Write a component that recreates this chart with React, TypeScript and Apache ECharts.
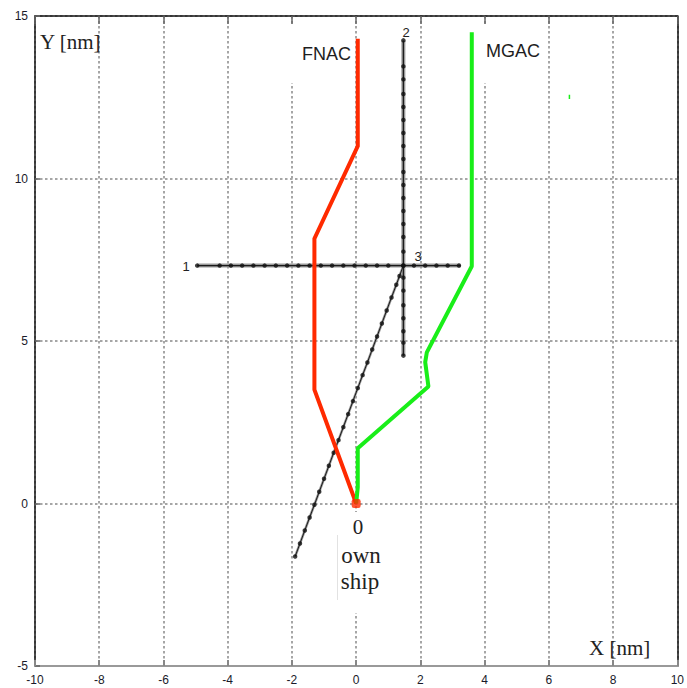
import React, { useEffect, useRef } from "react";
import * as echarts from "echarts";

// X ticks / Y ticks
const X_MIN = -10, X_MAX = 10, X_STEP = 2;
const Y_MIN = -5, Y_MAX = 15, Y_STEP = 5;

// FNAC track (red)
const FNAC_X = [0.05, 0.05, -1.3, -1.3, 0];
const FNAC_Y = [14.3, 11.0, 8.15, 3.5, 0];

// MGAC track (green)
const MGAC_X = [3.6, 3.6, 2.2, 2.15, 2.25, 0.05, 0.05, 0];
const MGAC_Y = [14.5, 7.3, 4.65, 4.35, 3.6, 1.7, 0.5, 0];

// Stray green tick
const STRAY_X = [6.64, 6.64];
const STRAY_Y = [12.45, 12.58];

// Target line 1 (horizontal)
const L1_X = [-4.95, 3.25];
const L1_Y = [7.32, 7.32];
const L1_DOTS_X = [-4.95, -4.25, -3.9, -3.55, -3.2, -2.85, -2.5, -2.15, -1.8, -1.45, -1.1, -0.75, -0.4, -0.05, 0.3, 0.65, 1.0, 1.47, 1.8, 2.15, 2.5, 2.85, 3.2];

// Target line 2 (vertical)
const L2_X = [1.47, 1.47];
const L2_Y = [14.25, 4.55];
const L2_DOTS_Y = [14.25, 13.45, 13.05, 12.6, 12.2, 11.8, 11.4, 11.0, 10.6, 10.2, 9.8, 9.4, 9.0, 8.6, 8.2, 7.75, 7.32, 6.95, 6.55, 6.1, 5.7, 5.3, 4.95, 4.55];

// Target line 3 (diagonal)
const L3_X = [-1.9, -1.75, -1.6, -1.45, -1.3, -1.15, -1.0, -0.85, -0.7, -0.55, -0.4, -0.25, -0.1, 0.05, 0.2, 0.35, 0.5, 0.65, 0.8, 0.95, 1.1, 1.25, 1.35, 1.47];
const L3_Y = [-1.63, -1.23, -0.83, -0.43, -0.04, 0.36, 0.76, 1.16, 1.56, 1.95, 2.35, 2.75, 3.15, 3.55, 3.95, 4.34, 4.74, 5.14, 5.54, 5.94, 6.34, 6.73, 7.0, 7.32];

// Own ship
const OWN_X = [0];
const OWN_Y = [0];

const zip = (xs: number[], ys: number[]) => xs.map((x, i) => [x, ys[i]]);

export default function App() {
  const ref = useRef<HTMLDivElement>(null);
  useEffect(() => {
    document.body.style.margin = "0";
    if (!ref.current) return;
    const chart = echarts.init(ref.current, undefined, { renderer: "svg" });
    const sans = "Liberation Sans, Arial, sans-serif";
    const serif = "Liberation Serif, Times New Roman, serif";
    const labelColor = "#1a1a2a";
    const gridStyle = { color: "#a6a6a6", width: 2, type: [2.5, 2.5] };
    const halo = (data: number[][], w: number) => ({
      type: "line", data, symbol: "none", silent: true, z: 2,
      lineStyle: { color: "#999", width: w },
    });
    const core = (data: number[][], w: number) => ({
      type: "line", data, symbol: "none", silent: true, z: 3,
      lineStyle: { color: "#1a1a1a", width: w },
    });
    chart.setOption({
      animation: false,
      backgroundColor: "#fff",
      grid: { left: 35, right: 5, top: 16, bottom: 22, containLabel: false },
      xAxis: [
        {
          type: "value", min: X_MIN, max: X_MAX, interval: X_STEP, position: "bottom",
          axisLine: { onZero: false, lineStyle: { color: "#999", width: 2 } },
          axisTick: { inside: true, length: 6, lineStyle: { color: "#888", width: 2 } },
          axisLabel: { color: labelColor, fontSize: 12, fontFamily: sans, margin: 8 },
          splitLine: { show: true, lineStyle: gridStyle },
        },
        {
          type: "value", min: X_MIN, max: X_MAX, interval: X_STEP, position: "top",
          axisLine: { onZero: false, lineStyle: { color: "#111", width: 1.5 } },
          axisTick: { inside: true, length: 8, lineStyle: { color: "#666", width: 1.5 } },
          axisLabel: { show: false },
          splitLine: { show: false },
        },
      ],
      yAxis: [
        {
          type: "value", min: Y_MIN, max: Y_MAX, interval: Y_STEP, position: "left",
          axisLine: { onZero: false, lineStyle: { color: "#111", width: 1.5 } },
          axisTick: { inside: true, length: 5, lineStyle: { color: "#666", width: 1.5 } },
          axisLabel: { color: labelColor, fontSize: 12, fontFamily: sans, margin: 7 },
          splitLine: { show: true, lineStyle: gridStyle },
        },
        {
          type: "value", min: Y_MIN, max: Y_MAX, interval: Y_STEP, position: "right",
          axisLine: { onZero: false, lineStyle: { color: "#111", width: 1.5 } },
          axisTick: { show: false }, axisLabel: { show: false }, splitLine: { show: false },
        },
      ],
      graphic: [
        { type: "rect", z: 1, shape: { x: 286, y: 26, width: 68, height: 57 }, style: { fill: "#fff" } },
        { type: "rect", z: 1, shape: { x: 480, y: 26, width: 66, height: 57 }, style: { fill: "#fff" } },
        { type: "rect", z: 1, shape: { x: 338, y: 512, width: 50, height: 101 }, style: { fill: "#fff" } },
        { type: "line", z: 1, shape: { x1: 337.5, y1: 535, x2: 337.5, y2: 600 }, style: { stroke: "#e2e2e2", lineWidth: 1 } },
        { type: "text", z: 10, x: 40, y: 42, style: { text: "Y [nm]", font: `21px ${serif}`, fill: "#222", verticalAlign: "middle" } },
        { type: "text", z: 10, x: 589, y: 648, style: { text: "X [nm]", font: `21px ${serif}`, fill: "#222", verticalAlign: "middle" } },
        { type: "text", z: 10, x: 302, y: 54, style: { text: "FNAC", font: `18px ${sans}`, fill: "#1e1e1e", verticalAlign: "middle" } },
        { type: "text", z: 10, x: 486, y: 51, style: { text: "MGAC", font: `18px ${sans}`, fill: "#1e1e1e", verticalAlign: "middle" } },
        { type: "text", z: 10, x: 358, y: 527, style: { text: "0", font: `21px ${serif}`, fill: "#222", align: "center", verticalAlign: "middle" } },
        { type: "text", z: 10, x: 361, y: 555, style: { text: "own", font: `23px ${serif}`, fill: "#222", align: "center", verticalAlign: "middle" } },
        { type: "text", z: 10, x: 360, y: 581, style: { text: "ship", font: `23px ${serif}`, fill: "#222", align: "center", verticalAlign: "middle" } },
        { type: "text", z: 10, x: 186, y: 266, style: { text: "1", font: `13px ${sans}`, fill: "#222", align: "center", verticalAlign: "middle" } },
        { type: "text", z: 10, x: 406, y: 32, style: { text: "2", font: `13px ${sans}`, fill: "#222", align: "center", verticalAlign: "middle" } },
        { type: "text", z: 10, x: 418, y: 256, style: { text: "3", font: `13px ${sans}`, fill: "#222", align: "center", verticalAlign: "middle" } },
      ],
      series: [
        halo(zip(L1_X, L1_Y), 4),
        core(zip(L1_X, L1_Y), 1.2),
        halo(zip(L2_X, L2_Y), 4),
        core(zip(L2_X, L2_Y), 1.2),
        halo(zip(L3_X, L3_Y), 2.5),
        core(zip(L3_X, L3_Y), 1),
        {
          type: "scatter", silent: true, z: 4, symbol: "circle", symbolSize: 4.5,
          itemStyle: { color: "#111" },
          data: [
            ...L1_DOTS_X.map((x) => [x, L1_Y[0]]),
            ...L2_DOTS_Y.map((y) => [L2_X[0], y]),
            ...zip(L3_X, L3_Y),
          ],
        },
        {
          type: "line", data: zip(FNAC_X, FNAC_Y), symbol: "none", silent: true, z: 5,
          lineStyle: { color: "#ff2a00", width: 4, join: "miter" },
        },
        {
          type: "line", data: zip(MGAC_X, MGAC_Y), symbol: "none", silent: true, z: 5,
          lineStyle: { color: "#19ee19", width: 4 },
        },
        {
          type: "line", data: zip(STRAY_X, STRAY_Y), symbol: "none", silent: true, z: 5,
          lineStyle: { color: "#19ee19", width: 1.5 },
        },
        {
          type: "scatter", data: zip(OWN_X, OWN_Y), silent: true, z: 6,
          symbol: "roundRect", symbolSize: 9, itemStyle: { color: "#ff2a00" },
        },
      ],
    });
    return () => chart.dispose();
  }, []);
  return <div ref={ref} style={{ width: 687, height: 688 }} />;
}
